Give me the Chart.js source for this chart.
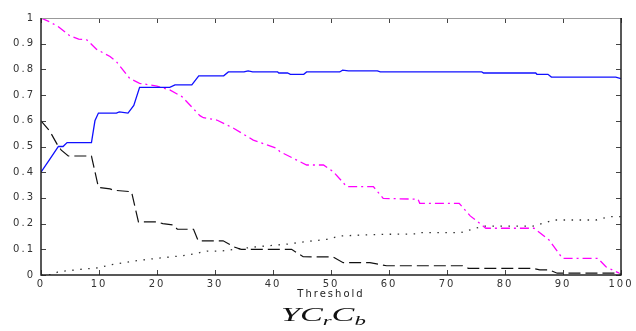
<!DOCTYPE html>
<html>
<head>
<meta charset="utf-8">
<script src="https://cdn.jsdelivr.net/npm/chart.js@4/dist/chart.umd.min.js"></script>
<style>
  html, body { margin: 0; padding: 0; background: #fff; }
  #wrap { position: relative; width: 636px; height: 331px; overflow: hidden; }
  #c { position: absolute; left: 0; top: 0; }
  #ttl { position: absolute; left: 0; width: 636px; top: 305px; text-align: center;
         font-family: "Liberation Serif", "DejaVu Serif", serif; font-style: italic;
         font-size: 18px; color: #111; }
  #ttl span { display: inline-block; transform: scaleX(1.9); transform-origin: center; margin-left: 10px; }
  #ttl sub { font-size: 12px; vertical-align: -4px; }
</style>
</head>
<body>
<div id="wrap">
  <canvas id="c" width="636" height="331"></canvas>
  <div id="ttl"><span>YC<sub>r</sub>C<sub>b</sub></span></div>
</div>
<script>
// ---- data (threshold, value) breakpoints ----
const xTickLabels = ["0","10","20","30","40","50","60","70","80","90","100"];
const yTickLabels = ["0","0.1","0.2","0.3","0.4","0.5","0.6","0.7","0.8","0.9","1"];
const xAxisTitle = "Threshold";

const blueX = [0, 1.5, 3, 3.8, 4.5, 8.7, 9.3, 9.9, 13, 13.5, 15, 16, 17, 22.2, 23.1, 26, 27.2, 31.5, 32.3, 35, 35.7, 36.5, 40.8, 41, 42.5, 43, 45.3, 45.8, 51.5, 52, 53, 58, 58.5, 76, 76.3, 85.3, 85.5, 87.4, 88, 99.1, 100];
const blueY = [0.40, 0.45, 0.50, 0.50, 0.515, 0.515, 0.60, 0.63, 0.63, 0.635, 0.63, 0.66, 0.73, 0.73, 0.74, 0.74, 0.775, 0.775, 0.79, 0.79, 0.794, 0.79, 0.79, 0.786, 0.786, 0.781, 0.781, 0.79, 0.79, 0.797, 0.794, 0.794, 0.79, 0.79, 0.786, 0.786, 0.781, 0.781, 0.770, 0.770, 0.764];

const magX = [0, 1.5, 3, 5, 6.5, 7.9, 9.6, 11.9, 13, 15.3, 17, 20, 22.2, 24.3, 27.4, 28, 30.3, 33.2, 36.6, 40.6, 41.2, 44.1, 45.8, 48.7, 50.4, 52.7, 57.3, 59, 65, 65.3, 72.1, 74, 76.7, 85, 87.6, 89.9, 96, 97.4, 99.7];
const magY = [1.0, 0.985, 0.966, 0.93, 0.918, 0.915, 0.878, 0.85, 0.83, 0.765, 0.746, 0.735, 0.72, 0.694, 0.62, 0.612, 0.603, 0.571, 0.525, 0.493, 0.48, 0.447, 0.428, 0.428, 0.402, 0.344, 0.344, 0.298, 0.295, 0.279, 0.279, 0.23, 0.182, 0.182, 0.136, 0.065, 0.065, 0.032, 0.007];

const dashX = [0, 1.5, 3, 3.5, 4.7, 8.7, 9.9, 11.9, 12.5, 15.6, 16.8, 20, 21, 22.8, 23.5, 26.3, 27.1, 31.4, 33.2, 34.5, 43.2, 45.2, 50.4, 52.1, 56.7, 59.6, 72.7, 73.7, 84.8, 86, 87.6, 89, 99, 100];
const dashY = [0.60, 0.56, 0.50, 0.486, 0.463, 0.463, 0.341, 0.335, 0.33, 0.324, 0.207, 0.207, 0.20, 0.195, 0.178, 0.178, 0.133, 0.133, 0.11, 0.10, 0.10, 0.071, 0.07, 0.048, 0.048, 0.036, 0.036, 0.026, 0.026, 0.02, 0.02, 0.007, 0.007, 0.003];

const dotX = [0, 2, 3, 7.3, 9.9, 11.9, 15.9, 20, 24, 26.3, 28.6, 30.9, 37.2, 42.4, 45.8, 49.3, 51.6, 58.4, 65, 65.5, 72.4, 76.2, 84.8, 88.5, 95.7, 98, 100];
const dotY = [0, 0.002, 0.013, 0.023, 0.028, 0.039, 0.054, 0.065, 0.074, 0.082, 0.093, 0.093, 0.11, 0.12, 0.13, 0.139, 0.152, 0.158, 0.16, 0.165, 0.165, 0.19, 0.19, 0.214, 0.214, 0.227, 0.227];

function pts(xs, ys) { return xs.map((x, i) => ({ x: x, y: ys[i] })); }

const PLOT_LEFT = 41;

const boxPlugin = {
  id: 'boxTicks',
  beforeDraw(chart) {
    chart.ctx.letterSpacing = '2px';
  },
  afterDraw(chart) {
    const ctx = chart.ctx;
    const a = chart.chartArea;
    const xs = chart.scales.x, ys = chart.scales.y;
    ctx.save();
    ctx.letterSpacing = '0px';
    ctx.lineWidth = 1;
    ctx.strokeStyle = '#444';
    ctx.beginPath();
    xs.ticks.forEach(t => {
      const px = Math.round(xs.getPixelForValue(t.value)) + 0.5;
      ctx.moveTo(px, a.bottom); ctx.lineTo(px, a.bottom - 5);
      ctx.moveTo(px, a.top); ctx.lineTo(px, a.top + 5);
    });
    ys.ticks.forEach(t => {
      const py = Math.round(ys.getPixelForValue(t.value)) + 0.5;
      ctx.moveTo(a.left, py); ctx.lineTo(a.left + 5, py);
      ctx.moveTo(a.right, py); ctx.lineTo(a.right - 5, py);
    });
    ctx.stroke();
    ctx.strokeStyle = '#999';
    ctx.lineWidth = 1;
    ctx.beginPath();
    ctx.moveTo(a.left, a.top + 0.5); ctx.lineTo(a.right, a.top + 0.5);
    ctx.stroke();
    ctx.strokeStyle = '#222';
    ctx.lineWidth = 1.5;
    ctx.beginPath();
    ctx.moveTo(a.left, a.top); ctx.lineTo(a.left, a.bottom); ctx.lineTo(a.right, a.bottom); ctx.lineTo(a.right, a.top);
    ctx.stroke();
    ctx.restore();
  }
};

new Chart(document.getElementById('c'), {
  type: 'line',
  data: {
    datasets: [
      { label: 'blue', data: pts(blueX, blueY), borderColor: '#1010ff', borderWidth: 1.3 },
      { label: 'magenta', data: pts(magX, magY), borderColor: '#ff00ff', borderWidth: 1.3, borderDash: [9, 4, 2, 4] },
      { label: 'dashed', data: pts(dashX, dashY), borderColor: '#111111', borderWidth: 1.2, borderDash: [12, 5] },
      { label: 'dotted', data: pts(dotX, dotY), borderColor: '#333333', borderWidth: 1.3, borderDash: [1.5, 6.5] }
    ]
  },
  options: {
    responsive: false,
    animation: false,
    devicePixelRatio: 1,
    layout: { padding: { top: 18, right: 15, left: 0, bottom: 26 } },
    elements: { point: { radius: 0 }, line: { tension: 0, fill: false } },
    plugins: { legend: { display: false }, tooltip: { enabled: false } },
    scales: {
      x: {
        type: 'linear', min: 0, max: 100,
        grid: { display: false, drawTicks: false },
        border: { display: false },
        ticks: { stepSize: 10, padding: 3, color: '#333', maxRotation: 0,
                 font: { family: 'DejaVu Sans', size: 10 },
                 callback: (v, i) => xTickLabels[i] },
        title: { display: true, text: xAxisTitle, color: '#222',
                 font: { family: 'DejaVu Sans', size: 10 }, padding: { top: 0, bottom: 5 } },
        afterFit: s => { s.height = 30; }
      },
      y: {
        min: 0, max: 1,
        grid: { display: false, drawTicks: false },
        border: { display: false },
        ticks: { stepSize: 0.1, padding: 6, color: '#333',
                 font: { family: 'DejaVu Sans', size: 10 },
                 callback: (v, i) => yTickLabels[i] },
        afterFit: s => { s.width = PLOT_LEFT; }
      }
    }
  },
  plugins: [boxPlugin]
});
</script>
</body>
</html>
